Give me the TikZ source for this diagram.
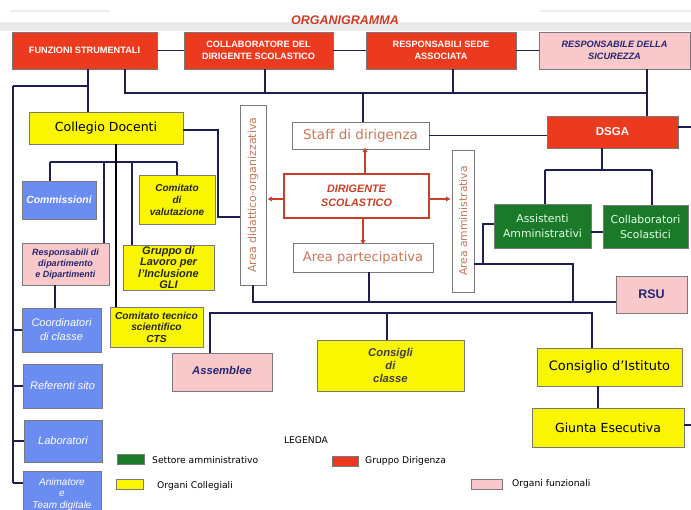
\documentclass[tikz,border=0pt]{standalone}
\usepackage{fontspec}
\setmainfont{Liberation Sans}
\newfontfamily\cfont{DejaVu Sans}
\usetikzlibrary{arrows.meta}
\definecolor{cred}{HTML}{EC3A1E}
\definecolor{cpink}{HTML}{F8C8CB}
\definecolor{cyel}{HTML}{FAF500}
\definecolor{cblue}{HTML}{6B8DF2}
\definecolor{cgreen}{HTML}{1A7A2A}
\definecolor{cline}{HTML}{1E1E50}
\definecolor{cnavy}{HTML}{26266E}
\definecolor{cbrown}{HTML}{C8785A}
\definecolor{cdsred}{HTML}{C8402A}
\definecolor{cgrey}{HTML}{7A7A7A}
\tikzset{
  wh/.style 2 args={minimum width=#1pt, minimum height=#2pt},
  bx/.style={draw=cgrey, line width=0.8pt, inner sep=1pt, outer sep=0pt, align=center},
  redbox/.style={bx, fill=cred, text=white, font=\fontsize{9.2}{12}\selectfont\bfseries},
  pinkbox/.style={bx, fill=cpink, text=cnavy, font=\fontsize{9.2}{12}\selectfont\bfseries\itshape},
  yelbox/.style={bx, fill=cyel, text=black!85, font=\fontsize{10.2}{11.5}\selectfont\bfseries\itshape},
  yelc/.style={bx, fill=cyel, text=black, font=\cfont\fontsize{12.5}{14}\selectfont},
  bluebox/.style={bx, fill=cblue, text=white, font=\fontsize{11}{14}\selectfont\itshape},
  greenbox/.style={bx, fill=cgreen, text=white!90!green, font=\cfont\fontsize{10.8}{15}\selectfont},
  areabox/.style={bx, fill=white, text=cbrown, font=\cfont\fontsize{13}{14}\selectfont},
  conn/.style={draw=cline, line width=1.7pt},
  darr/.style={draw=cdsred, line width=1.2pt, -{Triangle[length=4.5pt,width=4.5pt]}},
  swatch/.style={draw=cgrey, line width=0.6pt, inner sep=0pt, outer sep=0pt},
  legtxt/.style={anchor=west, inner sep=0pt, font=\cfont\fontsize{9.2}{11}\selectfont}
}
\begin{document}
\begin{tikzpicture}[x=1pt,y=-1pt]
\useasboundingbox (0,0) rectangle (691,509);
\fill[white] (0,0) rectangle (691,509);
% header band
\fill[black!8] (0,22) rectangle (691,31);
\draw[black!7, line width=2pt] (10,11) -- (110,11);
\draw[black!7, line width=2pt] (540,11) -- (691,11);
\node[font=\fontsize{12.5}{14}\selectfont\bfseries\itshape, text=cdsred!90!red, inner sep=0pt] (title) at (345,20) {ORGANIGRAMMA};

% top row
\node[redbox, wh={145}{37}] (fs) at (84.5,50.5) {FUNZIONI STRUMENTALI};
\node[redbox, wh={149}{37}] (cds) at (258.5,50.5) {COLLABORATORE DEL\\DIRIGENTE SCOLASTICO};
\node[redbox, wh={150}{37}] (rsa) at (441,50.5) {RESPONSABILI SEDE\\ASSOCIATA};
\node[pinkbox, wh={151}{37}] (rds) at (614.5,50.5) {RESPONSABILE DELLA\\SICUREZZA};

% collegio side
\node[yelc, wh={154}{32}] (cd) at (106,128) {Collegio Docenti};
\node[bluebox, wh={74}{38}, font=\fontsize{10.4}{12}\selectfont\bfseries\itshape] (comm) at (59,200) {Commissioni};
\node[pinkbox, wh={87}{42}, font=\fontsize{9}{10.8}\selectfont\bfseries\itshape] (resp) at (65.5,264) {Responsabili di\\dipartimento\\e Dipartimenti};
\node[yelbox, wh={76}{49}, font=\fontsize{10}{12}\selectfont\bfseries\itshape] (cv) at (177,199.5) {Comitato\\di\\valutazione};
\node[yelbox, wh={91}{44}, font=\fontsize{11}{11.6}\selectfont\bfseries\itshape] (gli) at (168.5,267.5) {Gruppo di\\Lavoro per\\l’Inclusione\\GLI};
\node[yelbox, wh={93}{40}] (cts) at (156.5,327) {Comitato tecnico\\scientifico\\CTS};
\node[bluebox, wh={79}{44}] (coord) at (61.5,330) {Coordinatori\\di classe};
\node[bluebox, wh={79}{44}] (ref) at (62.5,386) {Referenti sito};
\node[bluebox, wh={78}{42}] (lab) at (63,441) {Laboratori};
\node[bluebox, wh={78}{46}, font=\fontsize{10}{11.5}\selectfont\itshape] (anim) at (62,494) {Animatore\\e\\Team digitale};

% centre
\node[areabox, wh={26}{180}] (ad) at (253,195) {};
\node[text=cbrown, font=\cfont\fontsize{11}{12}\selectfont, rotate=90, inner sep=0pt] (adt) at (ad.center) {Area didattico-organizzativa};
\node[areabox, wh={137}{27}, font=\cfont\fontsize{13.5}{14}\selectfont] (staff) at (360.5,135.5) {Staff di dirigenza};
\node[bx, draw=cdsred, line width=2.6pt, fill=white, wh={145}{44}, text=cdsred, font=\fontsize{10.8}{14}\selectfont\bfseries\itshape] (ds) at (356.5,196) {DIRIGENTE\\SCOLASTICO};
\node[areabox, wh={140}{29}] (ap) at (363,257.5) {Area partecipativa};
\node[areabox, wh={22}{142}] (aa) at (463,221) {};
\node[text=cbrown, font=\cfont\fontsize{10.8}{12}\selectfont, rotate=90, inner sep=0pt] (aat) at (aa.center) {Area amministrativa};

% right side
\node[redbox, wh={131}{32}, font=\fontsize{11.5}{13}\selectfont\bfseries] (dsga) at (612.5,132) {DSGA};
\node[greenbox, wh={97}{44}] (asa) at (542.5,226) {Assistenti\\Amministrativi};
\node[greenbox, wh={85}{43}] (cls) at (645.5,226.5) {Collaboratori\\Scolastici};
\node[pinkbox, wh={71}{37}, font=\fontsize{12.5}{14}\selectfont\bfseries] (rsu) at (651.5,294.5) {RSU};

% bottom
\node[pinkbox, wh={100}{38}, font=\fontsize{11.3}{12}\selectfont\bfseries\itshape] (assem) at (222,372) {\raisebox{4pt}{Assemblee}};
\node[yelbox, wh={147}{51}, text=black!75, font=\fontsize{11.3}{13}\selectfont\bfseries\itshape] (cc) at (390.5,365.5) {Consigli\\di\\classe};
\node[yelc, wh={145}{38}, font=\cfont\fontsize{13}{14}\selectfont] (ci) at (609.5,367) {Consiglio d’Istituto};
\node[yelc, wh={152}{39}] (ge) at (608,427.5) {Giunta Esecutiva};

% junction coordinates
\coordinate (sp) at (13,86);
\coordinate (x88) at (88,86);
\coordinate (x125) at (125,93);
\coordinate (x265) at (265,93);
\coordinate (x453) at (453,93);
\coordinate (x647) at (647,93);
\coordinate (x363) at (363,93);
\coordinate (spend) at (13,483);

% connectors: top row
\draw[conn] (fs) -- (cds);
\draw[conn] (cds) -- (rsa);
\draw[conn] (rsa) -- (rds);
\draw[conn] (x88 |- fs.south) -- (x88 |- cd.north);
\draw[conn] (sp) -- (x88);
\draw[conn] (sp) -- (spend);
\draw[conn] (x125 |- fs.south) -- (x125) -- (x647);
\draw[conn] (x265 |- cds.south) -- (x265);
\draw[conn] (x453 |- rsa.south) -- (x453);
\draw[conn] (x647 |- rds.south) -- (x647 |- dsga.north);
\draw[conn] (x363) -- (x363 |- staff.north);
% left column ticks
\draw[conn] (sp |- coord.west) -- (coord.west);
\draw[conn] (sp |- ref.west) -- (ref.west);
\draw[conn] (sp |- lab.west) -- (lab.west);
\draw[conn] (spend) -- (spend -| anim.west);
% collegio docenti
\coordinate (cdr) at (218,130);
\coordinate (cdl) at (218,217);
\draw[conn] (cd.east |- cdr) -- (cdr) -- (cdl) -- (cdl -| ad.west);
\coordinate (h50) at (50,162);
\coordinate (h104) at (104,162);
\coordinate (h132) at (132,162);
\coordinate (h177) at (177,162);
\coordinate (v116) at (116,144);
\draw[conn] (h50) -- (h177);
\draw[conn] (h50) -- (h50 |- comm.north);
\draw[conn] (h104) -- (h104 |- resp.north);
\draw[conn] (h132) -- (h132 |- gli.north);
\draw[conn] (h177) -- (h177 |- cv.north);
\draw[draw=black, line width=1.9pt] (v116 |- cd.south) -- (v116 |- cts.north);
\coordinate (v55) at (55,285);
\draw[conn] (v55 |- resp.south) -- (v55 |- coord.north);
% DSGA side
\draw[conn] (staff.east) -- (staff.east -| dsga.west);
\coordinate (rE) at (691,127);
\draw[conn] (rE -| dsga.east) -- (rE);
\coordinate (d602) at (602,170);
\coordinate (d545) at (545,170);
\coordinate (d652) at (652,170);
\draw[conn] (d602 |- dsga.south) -- (d602);
\draw[conn] (d545) -- (d652);
\draw[conn] (d545) -- (d545 |- asa.north);
\draw[conn] (d652) -- (d652 |- cls.north);
\coordinate (a232) at (600,232);
\draw[conn] (a232 -| asa.east) -- (a232 -| cls.west);
\coordinate (a224) at (483,224);
\coordinate (a264) at (483,264);
\coordinate (b264) at (573,264);
\coordinate (b302) at (573,302);
\draw[conn] (a224 -| asa.west) -- (a224) -- (a264);
\draw[conn] (a264 -| aa.east) -- (b264) -- (b302);
\coordinate (c253) at (253,302);
\coordinate (c369) at (369,302);
\draw[conn] (c253 |- ad.south) -- (c253) -- (c253 -| rsu.west);
\draw[conn] (c369 |- ap.south) -- (c369);
% lower tree
\coordinate (e210) at (210,313);
\coordinate (e387) at (387,313);
\coordinate (e592) at (592,313);
\draw[conn] (e210 |- assem.north) -- (e210) -- (e592) -- (e592 |- ci.north);
\draw[conn] (e387) -- (e387 |- cc.north);
\coordinate (g598) at (598,400);
\draw[conn] (g598 |- ci.south) -- (g598 |- ge.north);
\coordinate (gE) at (691,425);
\draw[conn] (gE -| ge.east) -- (gE);

% arrows from dirigente
\coordinate (ux) at (365,196);
\draw[darr] (ux |- ds.north) -- ([yshift=1.5pt]ux |- staff.south);
\coordinate (ly) at (320,199);
\draw[darr] (ly -| ds.west) -- ([xshift=1.5pt]ly -| ad.east);
\draw[darr] (ly -| ds.east) -- ([xshift=-1.5pt]ly -| aa.west);
\coordinate (dx) at (363,230);
\draw[darr] (dx |- ds.south) -- ([yshift=-1.5pt]dx |- ap.north);

% legend
\node[font=\cfont\fontsize{9.2}{11}\selectfont, inner sep=0pt] (leg) at (306,440) {LEGENDA};
\node[swatch, fill=cgreen, wh={27}{10}] (sw1) at (130.5,459) {};
\node[legtxt] (lt1) at (152,460) {Settore amministrativo};
\node[swatch, fill=cyel, wh={27}{10}] (sw2) at (129.5,484) {};
\node[legtxt] (lt2) at (157,486) {Organi Collegiali};
\node[swatch, fill=cred, wh={26}{10}] (sw3) at (345,461) {};
\node[legtxt] (lt3) at (365,461) {Gruppo Dirigenza};
\node[swatch, fill=cpink, wh={31}{10}] (sw4) at (486.5,484) {};
\node[legtxt] (lt4) at (512,484) {Organi funzionali};
\end{tikzpicture}
\end{document}
